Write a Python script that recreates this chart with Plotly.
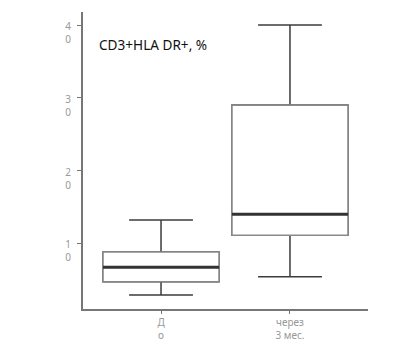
import plotly.graph_objects as go

categories = ["Д<br>о", "через<br>3 мес."]
positions = [0, 1]
q1 = [4.7, 11.1]
median = [6.7, 14.0]
q3 = [8.8, 29.0]
lowerfence = [2.9, 5.4]
upperfence = [13.2, 40.0]
ytick_vals = [10, 20, 30, 40]
ytick_text = ["1<br>0", "2<br>0", "3<br>0", "4<br>0"]
title_text = "CD3+HLA DR+, %"

fig = go.Figure()
common = dict(x=positions, width=0.9, whiskerwidth=0.55, fillcolor="white",
              hoverinfo="skip", showlegend=False)
# whiskers + box
fig.add_trace(go.Box(q1=q1, median=median, q3=q3, lowerfence=lowerfence,
                     upperfence=upperfence, line=dict(color="#3c3c3c", width=1.5), **common))
# lighter box outline
fig.add_trace(go.Box(q1=q1, median=median, q3=q3, lowerfence=q1,
                     upperfence=q3, line=dict(color="#8a8a8a", width=1.6), **common))
# thick median line
fig.add_trace(go.Box(q1=median, median=median, q3=median, lowerfence=median,
                     upperfence=median, line=dict(color="#333333", width=3),
                     x=positions, width=0.9, whiskerwidth=0.55, fillcolor="rgba(0,0,0,0)",
                     hoverinfo="skip", showlegend=False))

fig.update_layout(
    width=413, height=357,
    margin=dict(l=83, r=45, t=12, b=48),
    paper_bgcolor="white", plot_bgcolor="white",
    boxmode="overlay",
    font=dict(family="Noto Sans", size=10, color="#999999"),
    annotations=[dict(text=title_text, xref="paper", yref="paper", x=0.05, y=0.889,
                      xanchor="left", yanchor="middle", showarrow=False,
                      font=dict(family="Noto Sans", size=13.6, color="#111111"))],
)
fig.update_xaxes(range=[-0.605, 1.605], tickvals=positions, ticktext=categories,
                 showline=True, linecolor="#777777", linewidth=2, ticks="outside",
                 tickcolor="#777777", ticklen=3, tickwidth=1, showgrid=False, zeroline=False,
                 automargin=False)
fig.update_yaxes(range=[0.96, 41.8], tickvals=ytick_vals, ticktext=ytick_text,
                 showline=True, linecolor="#777777", linewidth=2, ticks="outside",
                 tickcolor="#777777", ticklen=4, tickwidth=1, showgrid=False, zeroline=False,
                 ticklabelshift=8, ticklabelstandoff=4, automargin=False)

fig.write_html("out.html")
